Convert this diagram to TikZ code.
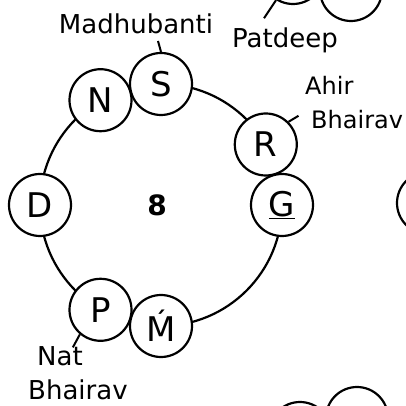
\documentclass[tikz,border=0pt]{standalone}
\usepackage{fontspec}
\setmainfont{DejaVu Sans}
\usetikzlibrary{calc}
\tikzset{
  svara/.style={circle,draw,fill=white,line width=2.2pt,minimum size=62pt,inner sep=0pt,
    font=\fontsize{34}{34}\selectfont},
  raag/.style={inner sep=0pt,font=\fontsize{26}{34}\selectfont},
  stub/.style={line width=2pt},
  nbr/.style={circle,draw,line width=2.2pt,minimum size=62pt,inner sep=0pt},
}
\begin{document}
\begin{tikzpicture}[x=1pt,y=1pt]
  \clip (-161,-201) rectangle (245,205);
  \coordinate (ctr) at (0,0);
  \draw[line width=2.2pt] (ctr) circle (121);
  \foreach \ang/\nm/\txt in {90/S/S,120/N/N,30/R/R,0/G/\underline{G},180/D/D,240/P/P,270/M/\'M}
    \node[svara] (\nm) at (\ang:121) {\txt};
  \node[font=\fontsize{28}{28}\selectfont\bfseries] (num) at (-4,0) {8};
  % raga names
  \node[raag] (madh) at (-25,181) {Madhubanti};
  \node[raag] (patd) at (124,165) {Patdeep};
  \node[raag,align=left,anchor=west,font=\fontsize{24}{34}\selectfont] (ahir) at (144,102) {Ahir\\\hspace*{6pt}Bhairav};
  \node[raag,align=left,anchor=west] (nat) at (-133,-168) {\hspace*{9pt}Nat\\Bhairav};
  \coordinate (madhT) at (-3,164);
  \draw[stub] (S.north) -- (madhT);
  \draw[stub] (R.45) -- ++(10,6);
  \draw[stub] (P.230) -- ++(-7,-13);
  % neighbouring charts, cut off at the edge
  \node[nbr] (nbA) at (132,232) {};
  \node[nbr] (nbB) at (190,215) {};
  \node[nbr] (nbC) at (267,2) {};
  \node[nbr] (nbD) at (139,-228) {};
  \node[nbr] (nbE) at (196,-213) {};
  \draw[stub] (nbA.238) -- ++(-12,-18);
\end{tikzpicture}
\end{document}
